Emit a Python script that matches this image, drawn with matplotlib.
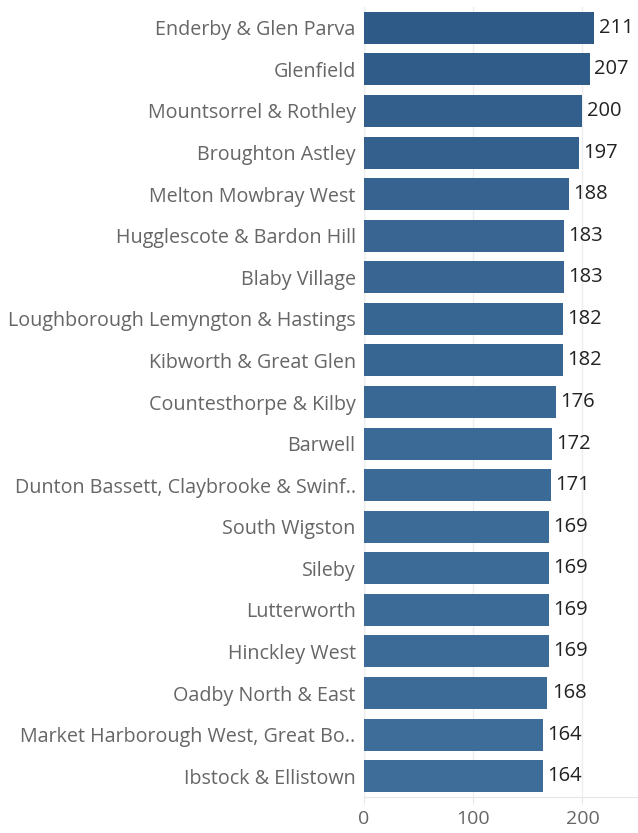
import matplotlib.pyplot as plt
import numpy as np
from matplotlib.colors import LinearSegmentedColormap

areas = ["Enderby & Glen Parva", "Glenfield", "Mountsorrel & Rothley", "Broughton Astley",
         "Melton Mowbray West", "Hugglescote & Bardon Hill", "Blaby Village",
         "Loughborough Lemyngton & Hastings", "Kibworth & Great Glen", "Countesthorpe & Kilby",
         "Barwell", "Dunton Bassett, Claybrooke & Swinf..", "South Wigston", "Sileby",
         "Lutterworth", "Hinckley West", "Oadby North & East",
         "Market Harborough West, Great Bo..", "Ibstock & Ellistown"]
values = [211, 207, 200, 197, 188, 183, 183, 182, 182, 176, 172, 171, 169, 169, 169, 169, 168, 164, 164]
xticks = [0, 100, 200]

plt.rcParams['font.family'] = ['Open Sans', 'DejaVu Sans']

fig = plt.figure(figsize=(6.38, 8.33), dpi=100)
ax = fig.add_axes([364/638, 1-797/833, (637-364)/638, (797-7)/833])

cmap = LinearSegmentedColormap.from_list("bl", ["#44729f", "#2c5986"])
vals = np.array(values)
norm = (vals - 150) / (215 - 150)
cols = [cmap(v) for v in norm]

y = np.arange(len(areas))
ax.barh(y, values, height=0.77, color=cols, zorder=3)
for yi, v in zip(y, values):
    ax.text(v + 4, yi, str(v), va='center', ha='left', fontsize=14.5, color='#222222', zorder=4)

ax.set_ylim(len(areas) - 0.5, -0.5)
ax.set_xlim(0, 250)
ax.set_yticks(y)
ax.set_yticklabels(areas, fontsize=14.2, color='#666666')
ax.set_xticks(xticks)
ax.set_xticklabels([str(t) for t in xticks], fontsize=14, color='#666666')
ax.tick_params(axis='y', length=0, pad=6)
ax.tick_params(axis='x', length=5, color='#e6e6e6', pad=4)
for s in ['top', 'right', 'left']:
    ax.spines[s].set_visible(False)
ax.spines['bottom'].set_color('#e6e6e6')
ax.axvline(0, color='#e0e0e0', lw=1, zorder=1)
ax.grid(axis='x', color='#eeeeee', lw=1, zorder=0)

fig.savefig("out.png", dpi=100)
